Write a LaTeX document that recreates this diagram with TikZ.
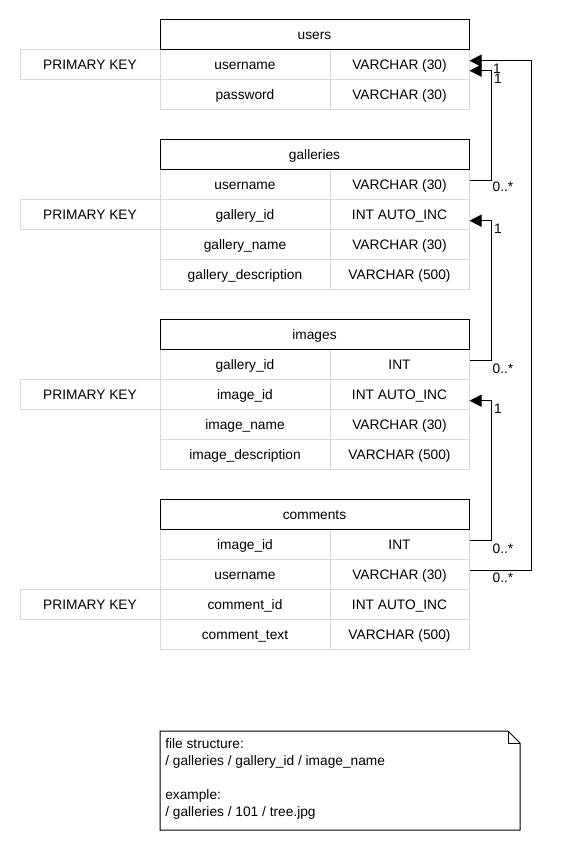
\documentclass[tikz,border=0pt]{standalone}
\usepackage{fontspec}
\setmainfont{Liberation Sans}
\usetikzlibrary{arrows.meta,calc}
\begin{document}
\begin{tikzpicture}[x=0.75pt,y=-0.75pt,
  every node/.style={font=\fontsize{10.3pt}{12.75pt}\selectfont},
  cell/.style={draw=gray!30, line width=0.75pt, minimum height=22.5pt, inner sep=0pt, text depth=0pt, text height=7.5pt},
  lcell/.style={cell, minimum width=127.5pt},
  rcell/.style={cell, minimum width=104.25pt},
  pkcell/.style={cell, minimum width=105pt},
  hdr/.style={draw=black, line width=0.75pt, minimum width=231.75pt, minimum height=22.5pt, inner sep=0pt, text depth=0pt, text height=7.5pt},
  fk/.style={draw=black, line width=0.75pt, -{Triangle[length=9pt,width=9pt]}},
  lbl/.style={inner sep=0pt}
]
\useasboundingbox (0,0) rectangle (570,850);
\fill[white] (0,0) rectangle (570,850);

% users
\node[lcell] (u1l) at (245,64) {username};
\node[rcell] (u1r) at (399.5,64) {VARCHAR (30)};
\node[pkcell] (u1pk) at (90,64) {PRIMARY KEY};
\node[lcell] (u2l) at (245,94) {password};
\node[rcell] (u2r) at (399.5,94) {VARCHAR (30)};
\node[hdr] (uh) at (314.5,34) {users};

% galleries
\node[lcell] (g1l) at (245,184) {username};
\node[rcell] (g1r) at (399.5,184) {VARCHAR (30)};
\node[lcell] (g2l) at (245,214) {gallery\_id};
\node[rcell] (g2r) at (399.5,214) {INT AUTO\_INC};
\node[pkcell] (g2pk) at (90,214) {PRIMARY KEY};
\node[lcell] (g3l) at (245,244) {gallery\_name};
\node[rcell] (g3r) at (399.5,244) {VARCHAR (30)};
\node[lcell] (g4l) at (245,274) {gallery\_description};
\node[rcell] (g4r) at (399.5,274) {VARCHAR (500)};
\node[hdr] (gh) at (314.5,154) {galleries};

% images
\node[lcell] (i1l) at (245,364) {gallery\_id};
\node[rcell] (i1r) at (399.5,364) {INT};
\node[lcell] (i2l) at (245,394) {image\_id};
\node[rcell] (i2r) at (399.5,394) {INT AUTO\_INC};
\node[pkcell] (i2pk) at (90,394) {PRIMARY KEY};
\node[lcell] (i3l) at (245,424) {image\_name};
\node[rcell] (i3r) at (399.5,424) {VARCHAR (30)};
\node[lcell] (i4l) at (245,454) {image\_description};
\node[rcell] (i4r) at (399.5,454) {VARCHAR (500)};
\node[hdr] (ih) at (314.5,334) {images};

% comments
\node[lcell] (c1l) at (245,544) {image\_id};
\node[rcell] (c1r) at (399.5,544) {INT};
\node[lcell] (c2l) at (245,574) {username};
\node[rcell] (c2r) at (399.5,574) {VARCHAR (30)};
\node[lcell] (c3l) at (245,604) {comment\_id};
\node[rcell] (c3r) at (399.5,604) {INT AUTO\_INC};
\node[pkcell] (c3pk) at (90,604) {PRIMARY KEY};
\node[lcell] (c4l) at (245,634) {comment\_text};
\node[rcell] (c4r) at (399.5,634) {VARCHAR (500)};
\node[hdr] (ch) at (314.5,514) {comments};

% connectors
\draw[fk] ($(g1r.east)+(0,-4)$) -- ++(22,0) |- ($(u1r.east)+(0,6.7)$);
\draw[fk] ($(c2r.east)+(0,-4)$) -- ++(62,0) |- ($(u1r.east)+(0,-3.3)$);
\draw[fk] ($(i1r.east)+(0,-4)$) -- ++(22,0) |- ($(g2r.east)+(0,6.7)$);
\draw[fk] ($(c1r.east)+(0,-4)$) -- ++(22,0) |- ($(i2r.east)+(0,6.7)$);

% multiplicities
\node[lbl] (m1a) at (497,69) {1};
\node[lbl] (m1b) at (498,79) {1};
\node[lbl] (m2) at (503,187) {0..*};
\node[lbl] (m3) at (498,229) {1};
\node[lbl] (m4) at (503,369) {0..*};
\node[lbl] (m5) at (498,409) {1};
\node[lbl] (m6) at (503,549) {0..*};
\node[lbl] (m7) at (503,578) {0..*};

% note
\draw[line width=0.75pt] (160,731) -- (508,731) -- (520,743) -- (520,830) -- (160,830) -- cycle;
\draw[line width=0.75pt] (508,731) -- (508,743) -- (520,743);
\node[lbl, anchor=north west, align=left] (note) at (165,738)
  {file structure:\\/ galleries / gallery\_id / image\_name\\\mbox{}\\example:\\/ galleries / 101 / tree.jpg};
\end{tikzpicture}
\end{document}
